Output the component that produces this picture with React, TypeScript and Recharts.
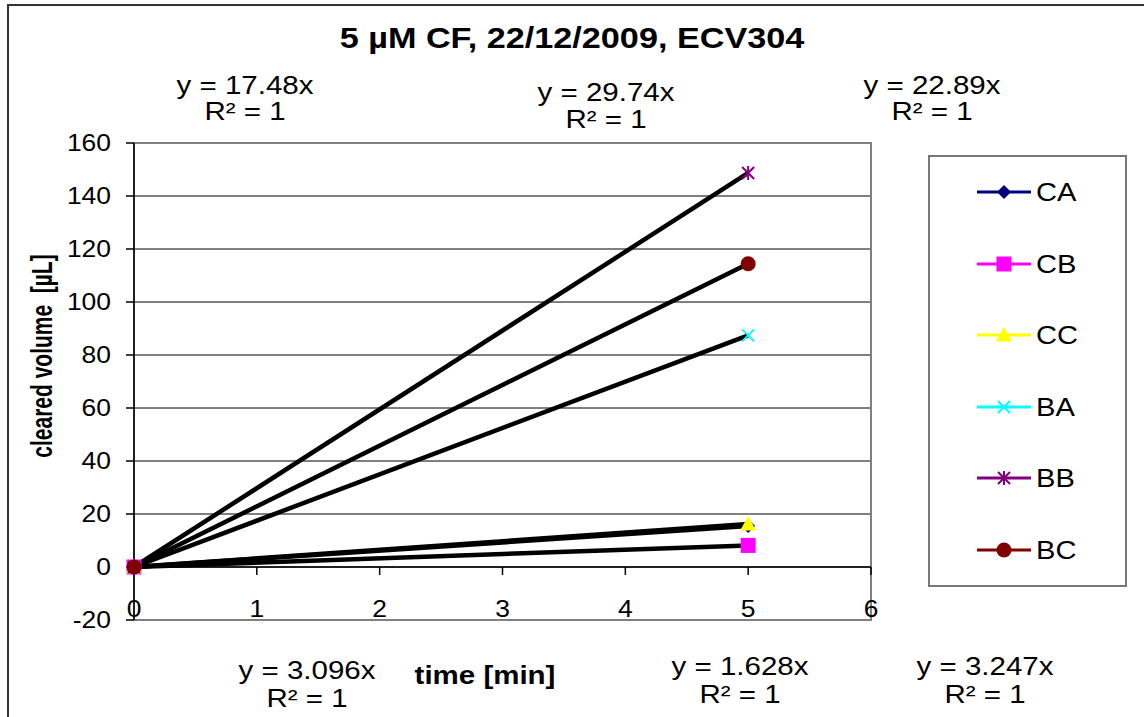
import React from 'react';
import {
  LineChart,
  Line,
  XAxis,
  YAxis,
  CartesianGrid,
  ReferenceArea,
  ReferenceLine,
  ReferenceDot,
  Legend,
} from 'recharts';

// Sampling times (min)
const times = [0, 5];

// Cleared volume (µL) per well, at each sampling time
const caValues = [0, 15.48];
const cbValues = [0, 8.14];
const ccValues = [0, 16.235];
const baValues = [0, 87.4];
const bbValues = [0, 148.7];
const bcValues = [0, 114.45];

// Series names, colours and marker kinds, in legend order
const seriesNames = ['CA', 'CB', 'CC', 'BA', 'BB', 'BC'];
const seriesColors = ['#000080', '#FF00FF', '#FFFF00', '#00FFFF', '#800080', '#800000'];
const seriesMarkers = ['diamond', 'square', 'triangle', 'x', 'star', 'circle'];

// Linear trend lines through the origin (y = slope · x), in legend order
const trendSlopes = [3.096, 1.628, 3.247, 17.48, 29.74, 22.89];
const trendLabels = ['y = 3.096x', 'y = 1.628x', 'y = 3.247x', 'y = 17.48x', 'y = 29.74x', 'y = 22.89x'];

// Axis ticks
const xTicks = [0, 1, 2, 3, 4, 5, 6];
const yTicks = [-20, 0, 20, 40, 60, 80, 100, 120, 140, 160];

const seriesValues = [caValues, cbValues, ccValues, baValues, bbValues, bcValues];

const data = times.map((t, i) => {
  const row: Record<string, number> = { t };
  seriesNames.forEach((name, s) => {
    row[name] = seriesValues[s][i];
    row[`${name}_fit`] = trendSlopes[s] * t;
  });
  return row;
});

const FONT = '"Liberation Sans", Arial, Helvetica, sans-serif';
const W = 1144;
const H = 717;
const SX = 1.18;

function Marker({ kind, cx, cy, color }: { kind: string; cx: number; cy: number; color: string }) {
  switch (kind) {
    case 'diamond':
      return (
        <polygon
          points={`${cx},${cy - 7} ${cx + 7},${cy} ${cx},${cy + 7} ${cx - 7},${cy}`}
          fill={color}
        />
      );
    case 'square':
      return <rect x={cx - 7.5} y={cy - 7.5} width={15} height={15} fill={color} />;
    case 'triangle':
      return (
        <polygon
          points={`${cx},${cy - 8} ${cx + 8},${cy + 6.5} ${cx - 8},${cy + 6.5}`}
          fill={color}
        />
      );
    case 'x':
      return (
        <path
          d={`M${cx - 6},${cy - 6}L${cx + 6},${cy + 6}M${cx + 6},${cy - 6}L${cx - 6},${cy + 6}`}
          stroke={color}
          strokeWidth={2}
        />
      );
    case 'star':
      return (
        <path
          d={`M${cx - 6},${cy - 6}L${cx + 6},${cy + 6}M${cx + 6},${cy - 6}L${cx - 6},${cy + 6}M${cx},${cy - 7}L${cx},${cy + 7}`}
          stroke={color}
          strokeWidth={2}
        />
      );
    default:
      return <circle cx={cx} cy={cy} r={7.5} fill={color} />;
  }
}

function Label({
  x,
  y,
  text,
  size,
  bold = false,
  sx = SX,
  rotate = 0,
}: {
  x: number;
  y: number;
  text: string;
  size: number;
  bold?: boolean;
  sx?: number;
  rotate?: number;
}) {
  return (
    <text
      transform={`translate(${x},${y}) scale(${sx},1) rotate(${rotate})`}
      textAnchor="middle"
      dominantBaseline="central"
      fontSize={size}
      fontWeight={bold ? 'bold' : 'normal'}
      fontFamily={FONT}
      fill="#000"
    >
      {text}
    </text>
  );
}

const YTick = (props: any) => {
  const { x, y, payload } = props;
  return (
    <text
      transform={`translate(${x},${y}) scale(1.15,1)`}
      textAnchor="end"
      dominantBaseline="central"
      fontSize={23}
      fontFamily={FONT}
      fill="#000"
    >
      {payload.value}
    </text>
  );
};

const XTick = (props: any) => {
  const { x, y, payload } = props;
  return (
    <text
      transform={`translate(${x},${y - 11}) scale(1.15,1)`}
      textAnchor="middle"
      dominantBaseline="central"
      fontSize={23}
      fontFamily={FONT}
      fill="#000"
    >
      {payload.value}
    </text>
  );
};

// Tick marks of the value-zero x axis
const ZeroAxisTick = (props: any) => {
  const { cx, cy } = props;
  return <line x1={cx} y1={cy} x2={cx} y2={cy + 8} stroke="#000" strokeWidth={1.5} />;
};

const renderLegend = () => (
  <div
    style={{
      width: 199,
      height: 432,
      border: '2px solid #777',
      boxSizing: 'border-box',
      background: '#fff',
      position: 'relative',
    }}
  >
    {seriesNames.map((name, i) => (
      <div
        key={name}
        style={{
          position: 'absolute',
          left: 47,
          top: 35 + i * 71.6 - 16,
          height: 32,
          display: 'flex',
          alignItems: 'center',
        }}
      >
        <svg width={54} height={20} style={{ display: 'block' }}>
          <line x1={0} y1={10} x2={54} y2={10} stroke={seriesColors[i]} strokeWidth={3} />
          <Marker kind={seriesMarkers[i]} cx={27} cy={10} color={seriesColors[i]} />
        </svg>
        <span
          style={{
            marginLeft: 5,
            fontSize: 26,
            fontFamily: FONT,
            color: '#000',
            display: 'inline-block',
            transform: 'scaleX(1.12)',
            transformOrigin: 'left center',
            lineHeight: '32px',
          }}
        >
          {name}
        </span>
      </div>
    ))}
  </div>
);

export default function App() {
  return (
    <div style={{ position: 'relative', width: W, height: H, overflow: 'hidden', background: '#fff' }}>
      <style>{'body{margin:0;}'}</style>
      <div
        style={{
          position: 'absolute',
          left: 7,
          top: 4,
          width: W,
          height: H,
          borderTop: '2px solid #333',
          borderLeft: '2px solid #333',
        }}
      />
      <div style={{ position: 'absolute', left: 0, top: 0 }}>
        <LineChart
          width={W}
          height={H}
          data={data}
          margin={{ top: 143, right: 273, bottom: 67, left: 74 }}
        >
          <CartesianGrid vertical={false} stroke="#000" strokeWidth={1} />
          <ReferenceArea
            x1={0}
            x2={6}
            y1={-20}
            y2={160}
            fill="none"
            stroke="#808080"
            strokeWidth={2}
          />
          <XAxis
            type="number"
            dataKey="t"
            domain={[0, 6]}
            ticks={xTicks}
            interval={0}
            axisLine={false}
            tickLine={false}
            tickSize={0}
            tickMargin={0}
            height={30}
            tick={<XTick />}
          />
          <YAxis
            type="number"
            domain={[-20, 160]}
            ticks={yTicks}
            interval={0}
            width={60}
            axisLine={{ stroke: '#000', strokeWidth: 1.5 }}
            tickLine={{ stroke: '#000', strokeWidth: 1.5 }}
            tickSize={8}
            tickMargin={15}
            tick={<YTick />}
          />
          <ReferenceLine y={0} stroke="#000" strokeWidth={1.5} />
          {xTicks.map((t) => (
            <ReferenceDot key={`xt${t}`} x={t} y={0} r={0} shape={<ZeroAxisTick />} />
          ))}
          <Legend
            layout="horizontal"
            verticalAlign="middle"
            align="center"
            content={renderLegend}
            wrapperStyle={{ left: 928, top: 155, width: 199, height: 432 }}
          />
          {seriesNames.map((name, i) => (
            <Line
              key={name}
              type="linear"
              dataKey={name}
              stroke={seriesColors[i]}
              strokeWidth={2}
              isAnimationActive={false}
              dot={(p: any) => (
                <Marker
                  key={`${name}-${p.index}`}
                  kind={seriesMarkers[i]}
                  cx={p.cx}
                  cy={p.cy}
                  color={seriesColors[i]}
                />
              )}
              activeDot={false}
            />
          ))}
          {seriesNames.map((name) => (
            <Line
              key={`${name}_fit`}
              type="linear"
              dataKey={`${name}_fit`}
              stroke="#000"
              strokeWidth={4.5}
              dot={false}
              activeDot={false}
              legendType="none"
              isAnimationActive={false}
            />
          ))}
        </LineChart>
      </div>
      <svg
        width={W}
        height={H}
        style={{ position: 'absolute', left: 0, top: 0, pointerEvents: 'none' }}
      >
        <Label x={572} y={38} text="5 µM CF, 22/12/2009, ECV304" size={29} bold />
        <Label x={245} y={85} text={trendLabels[3]} size={25} />
        <Label x={245} y={111} text="R² = 1" size={25} />
        <Label x={606} y={92} text={trendLabels[4]} size={25} />
        <Label x={606} y={119} text="R² = 1" size={25} />
        <Label x={932} y={85} text={trendLabels[5]} size={25} />
        <Label x={932} y={111} text="R² = 1" size={25} />
        <Label x={307} y={670} text={trendLabels[0]} size={25} />
        <Label x={307} y={698} text="R² = 1" size={25} />
        <Label x={740} y={666} text={trendLabels[1]} size={25} />
        <Label x={740} y={694} text="R² = 1" size={25} />
        <Label x={985} y={666} text={trendLabels[2]} size={25} />
        <Label x={985} y={694} text="R² = 1" size={25} />
        <Label x={485} y={675} text="time [min]" size={25} bold />
        <Label
          x={42}
          y={356}
          text={'cleared volume\u00a0\u00a0[µL]'}
          size={21}
          sx={1.4}
          bold
          rotate={-90}
        />
      </svg>
    </div>
  );
}
